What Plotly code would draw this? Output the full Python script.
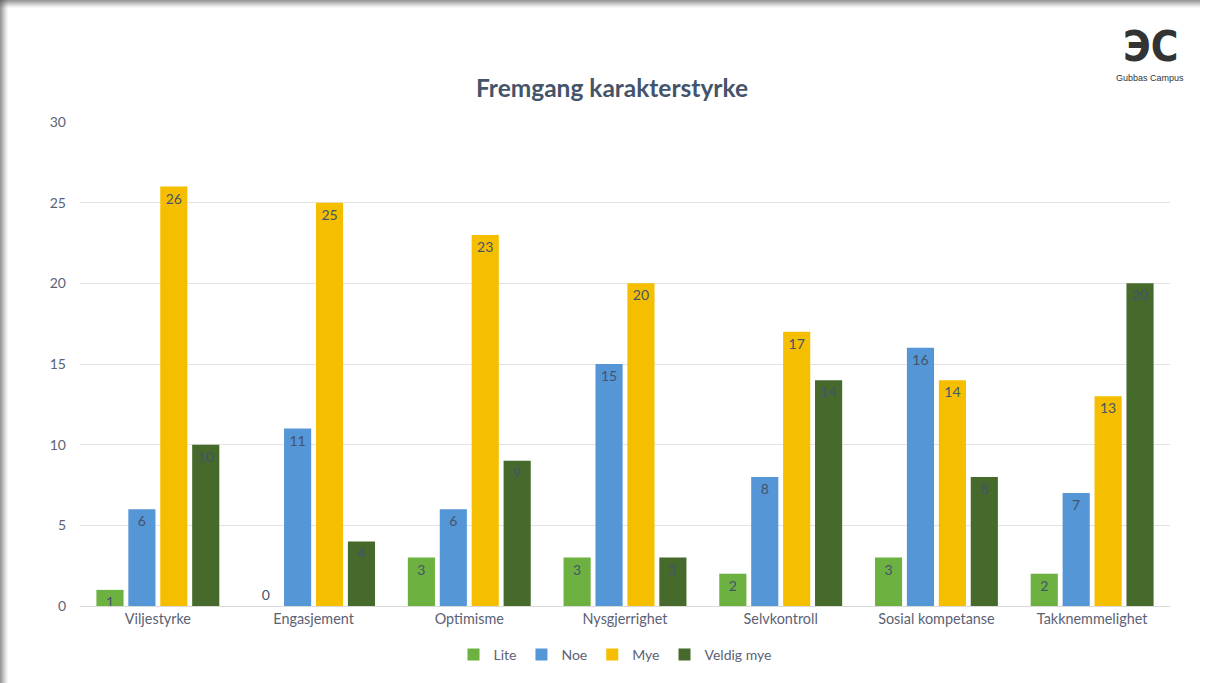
import plotly.graph_objects as go

categories = ["Viljestyrke", "Engasjement", "Optimisme", "Nysgjerrighet",
              "Selvkontroll", "Sosial kompetanse", "Takknemmelighet"]
series_names = ["Lite", "Noe", "Mye", "Veldig mye"]
lite = [1, 0, 3, 3, 2, 3, 2]
noe = [6, 11, 6, 15, 8, 16, 7]
mye = [26, 25, 23, 20, 17, 14, 13]
veldig_mye = [10, 4, 9, 3, 14, 8, 20]
y_ticks = [0, 5, 10, 15, 20, 25, 30]

colors = ["#6db240", "#5596d6", "#f5bf00", "#46692c"]
series_values = [lite, noe, mye, veldig_mye]

W, H = 1208, 683
L, R, T, B = 80, 38, 122, 77
PW, PH = W - L - R, H - T - B

def px_x(p):
    return (p - L) / PW

def px_y(p):
    return (H - B - p) / PH

FONT = "Lato, 'Open Sans', sans-serif"
TXT = "#44546a"
AX = "#5b6275"

fig = go.Figure()
for name, vals, col in zip(series_names, series_values, colors):
    fig.add_trace(go.Bar(
        x=categories, y=vals, name=name,
        marker=dict(color=col, line=dict(width=0)),
        text=[str(v) for v in vals],
        textposition=["outside" if v == 0 else "inside" for v in vals],
        insidetextanchor="end",
        constraintext="none",
        textangle=0,
        cliponaxis=False,
        textfont=dict(family=FONT, size=14, color=TXT),
        outsidetextfont=dict(family=FONT, size=14, color=TXT),
    ))

shapes = []
# card shadow on left and top edges
for i, op in enumerate([0.10, 0.14, 0.18, 0.22, 0.26, 0.30, 0.34, 0.40]):
    w = 8 - i
    shapes.append(dict(type="rect", xref="paper", yref="paper",
                       x0=px_x(0), x1=px_x(w), y0=px_y(H), y1=px_y(0),
                       fillcolor="rgba(90,90,90,%.2f)" % (op / 2.2), line=dict(width=0),
                       layer="below"))
    shapes.append(dict(type="rect", xref="paper", yref="paper",
                       x0=px_x(0), x1=px_x(1200), y0=px_y(w), y1=px_y(0),
                       fillcolor="rgba(90,90,90,%.2f)" % (op / 2.2), line=dict(width=0),
                       layer="below"))

annotations = [
    dict(text="<b>ЭC</b>", xref="paper", yref="paper", x=px_x(1150), y=px_y(46),
         xanchor="center", yanchor="middle", showarrow=False,
         font=dict(family="DejaVu Sans Condensed, DejaVu Sans", size=42, color="#333333")),
    dict(text="Gubbas Campus", xref="paper", yref="paper", x=px_x(1150), y=px_y(78),
         xanchor="center", yanchor="middle", showarrow=False,
         font=dict(family="Liberation Sans, Arial", size=9, color="#333333")),
]

fig.update_layout(
    width=W, height=H,
    margin=dict(l=L, r=R, t=T, b=B, autoexpand=False),
    paper_bgcolor="white", plot_bgcolor="white",
    barmode="group", bargap=0.18, bargroupgap=0.15,
    title=dict(text="<b>Fremgang karakterstyrke</b>", x=612 / W, xref="container",
               y=1 - 88 / H, yref="container", xanchor="center", yanchor="middle",
               font=dict(family=FONT, size=24.5, color=TXT)),
    font=dict(family=FONT, size=14, color=AX),
    xaxis=dict(showgrid=False, showline=True, linecolor="#d9d9d9", linewidth=1,
               ticks="", tickfont=dict(family=FONT, size=14.4, color=AX)),
    yaxis=dict(range=[0, 30], tickvals=y_ticks, showgrid=True, gridcolor="#e3e3e3",
               gridwidth=1, zeroline=False, showline=False, ticks="",
               ticklabelstandoff=13,
               tickfont=dict(family=FONT, size=14, color=AX)),
    legend=dict(orientation="h", x=px_x(615), xanchor="center", y=px_y(655), yanchor="middle",
                font=dict(family=FONT, size=14, color=AX),
                itemwidth=30, traceorder="normal"),
    shapes=shapes, annotations=annotations,
)

fig.write_html("out.html", config={"displayModeBar": False},
               post_script="document.body.style.margin='0';document.body.style.overflow='hidden';")
